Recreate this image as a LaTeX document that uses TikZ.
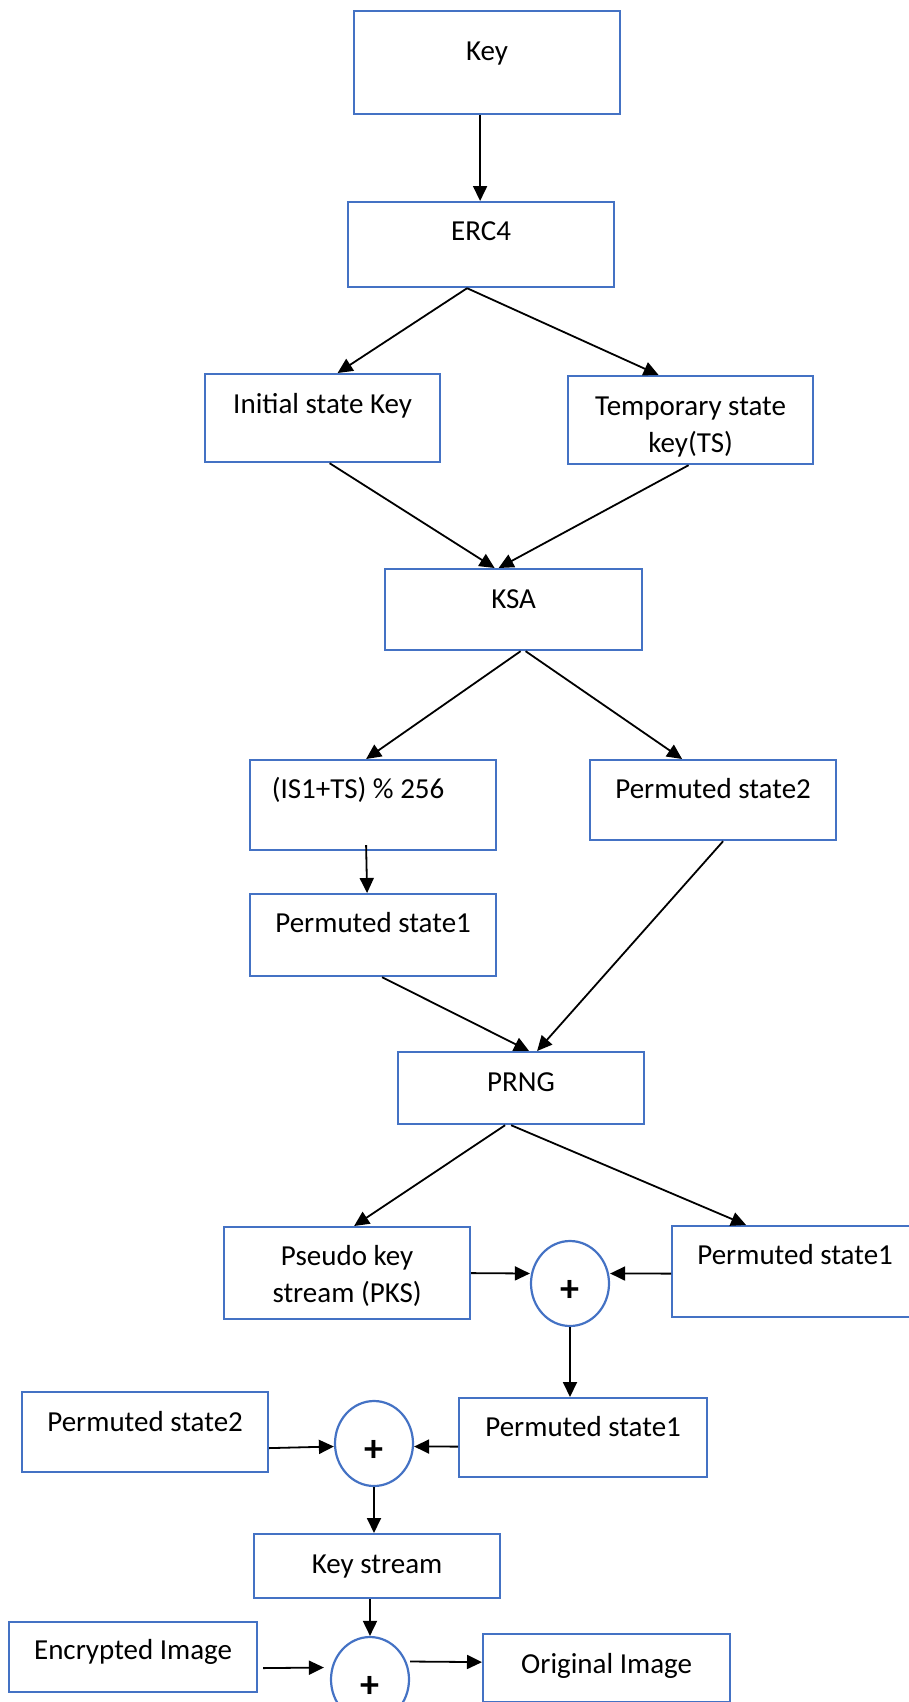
\documentclass[tikz,border=0pt]{standalone}
\usepackage{fontspec}
\setmainfont{Carlito}
\usetikzlibrary{arrows.meta,shapes}
\definecolor{boxblue}{HTML}{4472C4}

\begin{document}
\begin{tikzpicture}[x=1pt,y=-1pt,>={Triangle[length=15pt,width=14pt]},
  box/.style={draw=boxblue,line width=2.2pt,inner sep=0pt,anchor=north west,
    minimum width=246pt,align=center,font=\fontsize{29}{37}\selectfont},
  xor/.style={ellipse,draw=boxblue,line width=2.2pt,inner sep=0pt,
    minimum width=78pt,minimum height=85pt,text height=36pt,text depth=0pt,
    font=\fontsize{38}{40}\selectfont\bfseries},
  flow/.style={->,line width=1.8pt}]
  \useasboundingbox (0,0) rectangle (908,1702);
% Key schedule
  \node[box,minimum width=266pt,text height=49pt,text depth=54pt] (key) at (353,10) {Key};
  \node[box,minimum width=266pt,text height=38pt,text depth=47pt] (erc) at (347,201) {ERC4};
  \node[box,minimum width=235pt,text height=39pt,text depth=49pt] (init) at (204,373) {Initial state Key};
  \node[box,minimum width=245pt,text height=76pt,text depth=12pt] (temp) at (567,375) {Temporary state\\key(TS)};
  \node[box,minimum width=257pt,text height=39pt,text depth=42pt] (ksa) at (384,568) {KSA};
  \draw[flow] ([xshift=-7pt]key.south) -- ([xshift=-1pt]erc.north);
  \draw[flow] ([xshift=-14pt]erc.south) -- ([xshift=15pt]init.north);
  \draw[flow] ([xshift=-14pt]erc.south) -- ([xshift=-32pt]temp.north);
  \draw[flow] ([xshift=7pt]init.south) -- ([xshift=-19pt]ksa.north);
  \draw[flow] ([xshift=-2pt]temp.south) -- ([xshift=-15pt]ksa.north);
% Permutation
  \node[box,text height=38pt,text depth=52pt] (mod) at (249,759) {(IS1+TS) \% 256\hspace*{30pt}};
  \node[box,text height=38pt,text depth=42pt] (ps2a) at (589,759) {Permuted state2};
  \node[box,text height=38pt,text depth=44pt] (ps1a) at (249,893) {Permuted state1};
  \node[box,text height=39pt,text depth=33pt] (prng) at (397,1051) {PRNG};
  \draw[flow] ([xshift=7pt]ksa.south) -- ([xshift=-7pt]mod.north);
  \draw[flow] ([xshift=12pt]ksa.south) -- ([xshift=-31pt]ps2a.north);
  \draw[flow] ([shift={(-7pt,6pt)}]mod.south) -- ([xshift=-6pt]ps1a.north);
  \draw[flow] ([xshift=9pt]ps1a.south) -- ([xshift=8pt]prng.north);
  \draw[flow] ([xshift=10pt]ps2a.south) -- ([xshift=16pt]prng.north);
% Key stream
  \node[box,text height=75pt,text depth=17pt] (pks) at (223,1226) {Pseudo key\\stream (PKS)};
  \node[xor] (xor1) at (570,1283.5) {+};
  \node[box,text height=38pt,text depth=53pt] (ps1b) at (671,1225) {Permuted state1};
  \node[box,minimum width=248pt,text height=38pt,text depth=41pt] (ps1c) at (458,1397) {Permuted state1};
  \node[box,text height=39pt,text depth=41pt] (ps2b) at (21,1391) {Permuted state2};
  \node[xor] (xor2) at (374,1443.5) {+};
  \node[box,text height=39pt,text depth=25pt] (kstr) at (253,1533) {Key stream};
  \draw[flow] ([xshift=-16pt]prng.south) -- ([xshift=7pt]pks.north);
  \draw[flow] ([xshift=-10pt]prng.south) -- ([xshift=-49pt]ps1b.north);
  \draw[flow] (pks.east) -- ([yshift=10pt]xor1.west);
  \draw[flow] ([yshift=-2pt]ps1b.west) -- ([yshift=10pt]xor1.east);
  \draw[flow] (xor1.south) -- (xor1.south |- ps1c.north);
  \draw[flow] ([yshift=-16pt]ps2b.east) -- ([yshift=-3pt]xor2.west);
  \draw[flow] ([yshift=-9pt]ps1c.west) -- ([yshift=-3pt]xor2.east);
  \draw[flow] (xor2.south) -- (xor2.south |- kstr.north);
% Decryption
  \node[box,minimum width=248pt,text height=37pt,text depth=33pt] (enc) at (8,1621) {Encrypted Image};
  \node[xor] (xor3) at (370,1679.5) {+};
  \node[box,minimum width=247pt,text height=39pt,text depth=29pt] (orig) at (482,1633) {Original Image};
  \draw[flow] (xor3.north |- kstr.south) -- (xor3.north);
  \draw[flow] ([shift={(5pt,-11pt)}]enc.east) -- ([shift={(-6pt,12pt)}]xor3.west);
  \draw[flow] ([yshift=18pt]xor3.east) -- ([yshift=6pt]orig.west);
\end{tikzpicture}
\end{document}
